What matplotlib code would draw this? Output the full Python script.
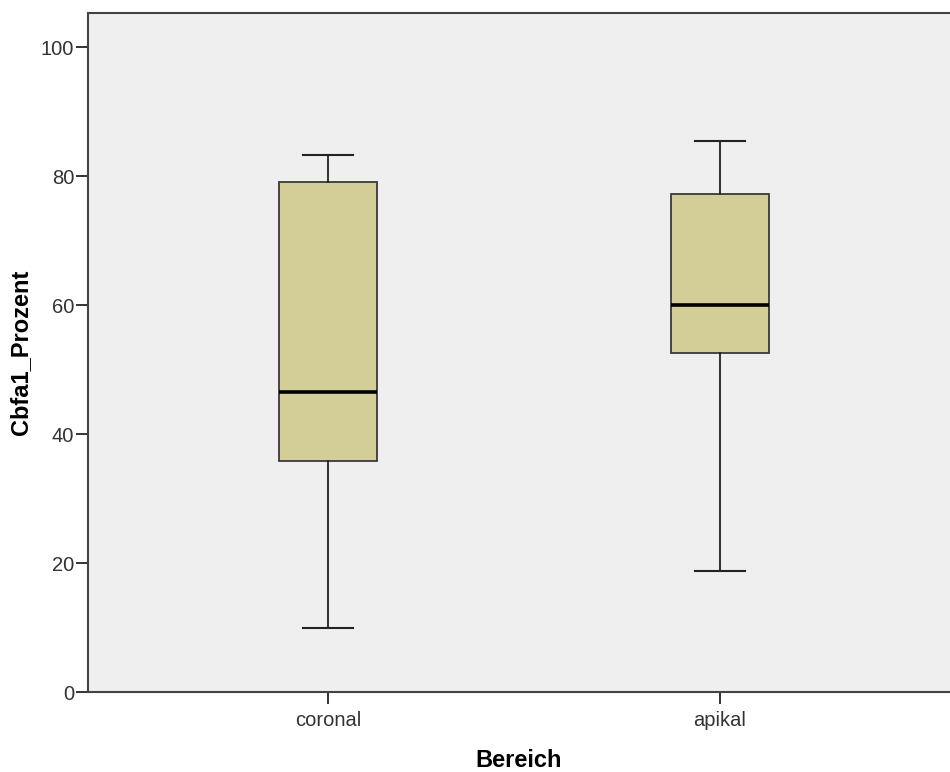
import matplotlib
matplotlib.use("Agg")
import matplotlib.pyplot as plt

plt.rcParams['font.family'] = ['Liberation Sans', 'DejaVu Sans']

categories = ["coronal", "apikal"]
whisker_low = [10.0, 18.8]
q1 = [35.9, 52.6]
median = [46.5, 60.0]
q3 = [79.1, 77.3]
whisker_high = [83.3, 85.4]

fig = plt.figure(figsize=(9.5, 7.72), dpi=100)
ax = fig.add_axes([88/950, 80/772, 1 - 88/950, (692-13)/772])
ax.set_facecolor('#EFEFEF')

stats = []
for i, c in enumerate(categories):
    stats.append(dict(label=c, whislo=whisker_low[i], q1=q1[i], med=median[i],
                      q3=q3[i], whishi=whisker_high[i], fliers=[]))

bp = ax.bxp(stats, positions=[1, 2], widths=0.25, patch_artist=True,
            showfliers=False, capwidths=0.128,
            boxprops=dict(facecolor='#D3CE98', edgecolor='#3a3a3a', linewidth=1.3),
            medianprops=dict(color='black', linewidth=2.6),
            whiskerprops=dict(color='#222222', linewidth=1.3),
            capprops=dict(color='#222222', linewidth=1.5))

ax.set_xlim(0.388, 2.587)
ax.set_ylim(0, 105.3)
ax.set_yticks([0, 20, 40, 60, 80, 100])
ax.set_xticks([1, 2])
ax.set_xticklabels(categories)
ax.tick_params(axis='both', labelsize=14.5, colors='#333333', length=8.5, width=1.4)
ax.tick_params(axis='x', pad=5)
ax.tick_params(axis='y', pad=1.5)

for s in ['left', 'bottom', 'top']:
    ax.spines[s].set_linewidth(1.5)
    ax.spines[s].set_color('#444444')
ax.spines['right'].set_visible(False)

ax.set_ylabel('Cbfa1_Prozent', fontsize=17, fontweight='bold', labelpad=6)
ax.set_xlabel('Bereich', fontsize=17, fontweight='bold', labelpad=14)

fig.savefig('out.png', dpi=100)
